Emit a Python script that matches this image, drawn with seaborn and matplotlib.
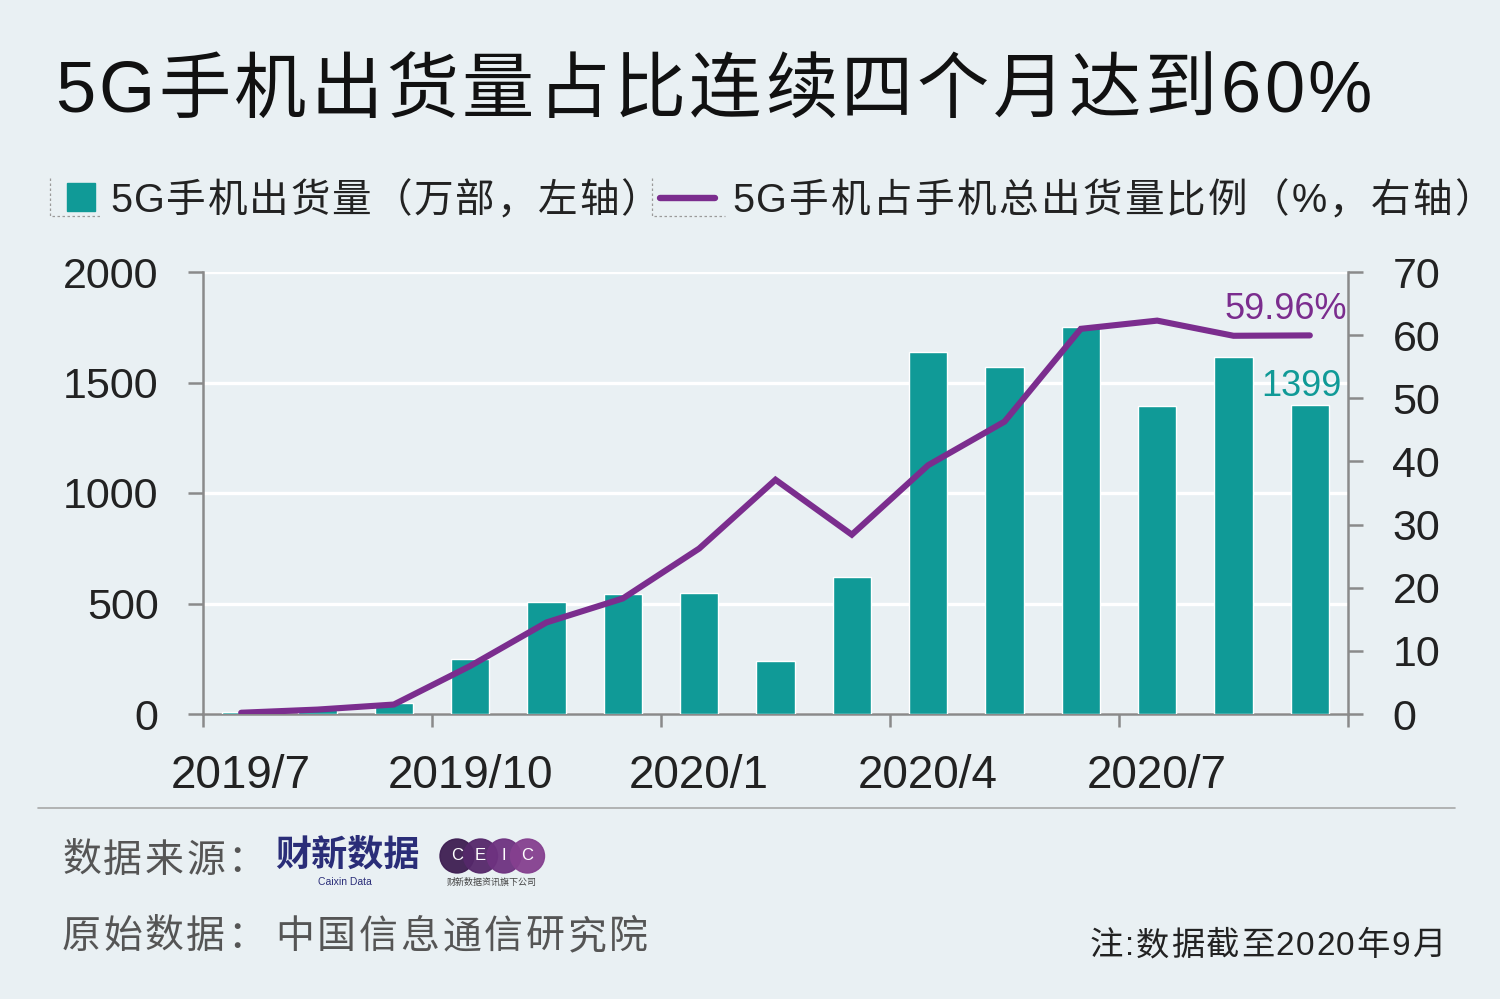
import numpy as np
import pandas as pd
import matplotlib
matplotlib.use("Agg")
import matplotlib.pyplot as plt
import seaborn as sns
from matplotlib.patches import Rectangle, Ellipse
from matplotlib.lines import Line2D

# ---------------- data ----------------
months = ["2019/7", "2019/8", "2019/9", "2019/10", "2019/11", "2019/12",
          "2020/1", "2020/2", "2020/3", "2020/4", "2020/5", "2020/6",
          "2020/7", "2020/8", "2020/9"]
shipments = [7, 22, 50, 249, 507, 543, 546, 238, 622, 1638, 1568, 1751, 1394, 1615, 1399]
share = [0.2, 0.7, 1.5, 7.6, 14.5, 18.3, 26.2, 37.1, 28.4, 39.4, 46.3, 61.0, 62.3, 59.9, 59.96]
tick_labels = ["2019/7", "2019/10", "2020/1", "2020/4", "2020/7"]
left_ticks = [0, 500, 1000, 1500, 2000]
right_ticks = [0, 10, 20, 30, 40, 50, 60, 70]

title = "5G手机出货量占比连续四个月达到60%"
legend_bar = "5G手机出货量（万部，左轴）"
legend_line = "5G手机占手机总出货量比例（%，右轴）"
source_label = "数据来源："
raw_label = "原始数据："
raw_source = "中国信息通信研究院"
note = "注:数据截至2020年9月"

# ---------------- style ----------------
BG = "#e9f0f3"
TEAL = "#109a97"
PURPLE = "#7b2d8e"
AXIS = "#8a8a8a"
TXT = "#222222"
W, H = 1500, 999

sns.set_style("white")
plt.rcParams["font.family"] = ["Liberation Sans", "Noto Sans CJK SC", "DejaVu Sans"]

fig = plt.figure(figsize=(15, 9.99), dpi=100, facecolor=BG)
renderer = fig.canvas.get_renderer()


def text_width(s, **kw):
    t = fig.text(0, 0, s, **kw)
    w = t.get_window_extent(renderer).width
    t.remove()
    return w


def tracked(s, x0, baseline, size, color, x1=None, track=0.0, weight="normal"):
    kw = dict(fontsize=size, fontweight=weight)
    if x1 is not None and len(s) > 1:
        track = ((x1 - x0) - text_width(s, **kw)) / (len(s) - 1)
    for i, ch in enumerate(s):
        off = text_width(s[: i + 1], **kw) - text_width(ch, **kw)
        fig.text((x0 + off + i * track) / W, 1 - baseline / H, ch, color=color,
                 ha="left", va="baseline", **kw)


ax = fig.add_axes([203 / W, 1 - 714 / H, (1348 - 203) / W, (714 - 272) / H])
ax.set_facecolor(BG)

df = pd.DataFrame({"month": months, "shipments": shipments, "share": share,
                   "pos": np.arange(len(months))})

sns.barplot(data=df, x="month", y="shipments", order=months, color=TEAL,
            saturation=1, width=0.5, ax=ax, zorder=3)
ax2 = ax.twinx()
sns.lineplot(data=df, x="pos", y="share", color=PURPLE, lw=4.4, ax=ax2,
             solid_joinstyle="miter", zorder=4)

ax.set_xlim(-0.5, len(months) - 0.5)
ax.set_ylim(0, 2000)
ax2.set_ylim(0, 70)
for a in (ax, ax2):
    a.set_xlabel("")
    a.set_ylabel("")

# grid
ax.set_axisbelow(True)
ax.yaxis.grid(True, color="white", lw=2.4)
ax.xaxis.grid(False)

# spines
for s in ["top", "right"]:
    ax.spines[s].set_visible(False)
for s in ["top", "left", "bottom"]:
    ax2.spines[s].set_visible(False)
for sp in [ax.spines["left"], ax.spines["bottom"], ax2.spines["right"]]:
    sp.set_color(AXIS)
    sp.set_linewidth(1.8)

# ticks
ax.set_yticks(left_ticks)
ax.set_yticklabels([str(t) for t in left_ticks])
ax2.set_yticks(right_ticks)
ax2.set_yticklabels([str(t) for t in right_ticks])
ax.tick_params(axis="y", direction="out", length=11, width=1.8, color=AXIS,
               labelsize=31, labelcolor=TXT, pad=21, left=True)
ax2.tick_params(axis="y", direction="out", length=11, width=1.8, color=AXIS,
                labelsize=31, labelcolor=TXT, pad=21, right=True)

n = len(months)
ax.set_xticks(np.arange(-0.5, n, 3))
ax.set_xticklabels([])
ax.set_xticks(np.arange(0, n, 3)[:len(tick_labels)], minor=True)
ax.set_xticklabels(tick_labels, minor=True)
ax.tick_params(axis="x", which="major", direction="out", length=9, width=1.8,
               color=AXIS, bottom=True)
ax.tick_params(axis="x", which="minor", length=0, labelsize=33, labelcolor=TXT,
               pad=29, bottom=True)

# value annotations
ax2.annotate(f"{share[-1]:.2f}%", xy=(n - 1, share[-1]), xytext=(27, 19),
             textcoords="offset points", ha="right", va="center",
             color=PURPLE, fontsize=26)
ax.annotate(f"{shipments[-1]}", xy=(n - 1, shipments[-1]), xytext=(23, 13),
            textcoords="offset points", ha="right", va="center",
            color=TEAL, fontsize=26)

# ---------------- title ----------------
tracked(title, 55, 112, 52, "#111111", x1=1372)

# ---------------- legend ----------------
fig.patches.append(Rectangle((67 / W, 1 - 211 / H), 28 / W, 28 / H,
                             transform=fig.transFigure, color=TEAL))
tracked(legend_bar, 110, 212, 28.5, TXT, x1=660)
fig.lines.append(Line2D([660 / W, 715 / W], [1 - 198 / H, 1 - 198 / H],
                        transform=fig.transFigure, color=PURPLE, lw=4.6))
tracked(legend_line, 732, 212, 28.5, TXT, x1=1494)
# dotted legend frames
for x0, x1 in [(50, 100), (652, 725)]:
    fig.lines.append(Line2D([x0 / W, x0 / W, x1 / W],
                            [1 - 178 / H, 1 - 216 / H, 1 - 216 / H],
                            transform=fig.transFigure, color="#9a9a9a",
                            lw=0.9, ls=(0, (2, 2))))

# ---------------- footer ----------------
fig.lines.append(Line2D([38 / W, 1455 / W], [1 - 808 / H, 1 - 808 / H],
                        transform=fig.transFigure, color="#a8a8a8", lw=1.2))
tracked(source_label, 62, 872, 28, "#555555", track=2.5)
fig.text(275 / W, 1 - 856 / H, "财新数据", fontsize=26, fontweight="bold",
         color="#2a2d78", ha="left", va="center")
fig.text(345 / W, 1 - 882 / H, "Caixin Data", fontsize=7.5,
         color="#2a2d78", ha="center", va="center")
circle_cols = ["#3e1e52", "#55286a", "#6e3280", "#85408f"]
for i, (c, letter) in enumerate(zip(circle_cols, "CEIC")):
    cx = (457 + i * 23.5) / W
    cy = 1 - 856 / H
    fig.patches.append(Ellipse((cx, cy), 34 / W, 34 / H,
                               transform=fig.transFigure, color=c, alpha=0.95))
    fig.text(cx, cy, letter, fontsize=12, color="white", ha="center", va="center")
fig.text(492 / W, 1 - 882 / H, "财新数据资讯旗下公司", fontsize=6.5,
         color="#444444", ha="center", va="center")
tracked(raw_label, 62, 948, 28, "#555555", track=2.5)
tracked(raw_source, 275, 948, 28, "#555555", x1=648)
tracked(note, 1090, 955, 24, TXT, x1=1445)

fig.savefig("out.png", dpi=100, facecolor=BG)
